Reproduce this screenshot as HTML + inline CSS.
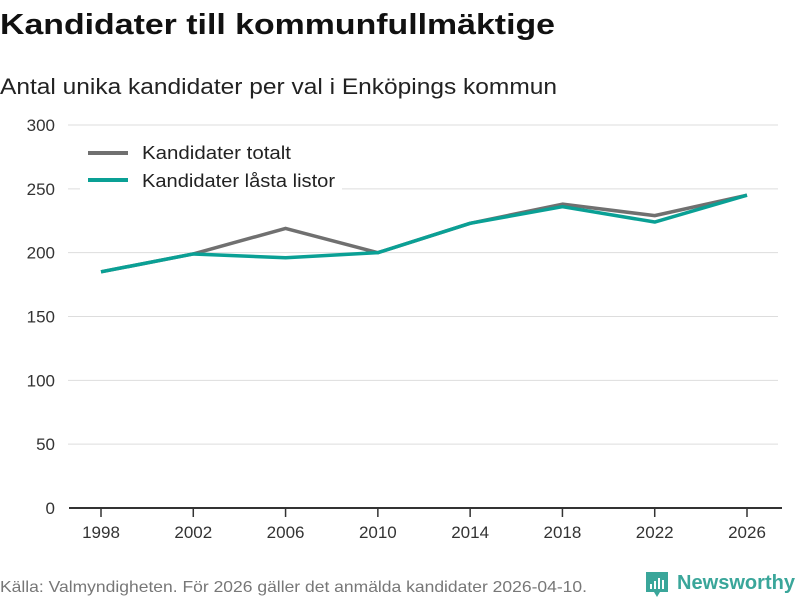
<!DOCTYPE html>
<html><head><meta charset="utf-8"><style>
body{margin:0;background:#fff;font-family:"Liberation Sans",sans-serif;}
svg text{font-family:"Liberation Sans",sans-serif;}
</style></head><body>
<svg id="c" width="800" height="600" viewBox="0 0 800 600">
<text x="0" y="34" font-size="29" font-weight="bold" fill="#111" textLength="555" lengthAdjust="spacingAndGlyphs">Kandidater till kommunfullmäktige</text>
<text x="0" y="94" font-size="22" fill="#222" textLength="557" lengthAdjust="spacingAndGlyphs">Antal unika kandidater per val i Enköpings kommun</text>
<g id="grid"></g>
<g id="series"></g>
<rect x="80" y="138" width="262" height="60" fill="#fff"/>
<g>
<line x1="88" y1="153" x2="128" y2="153" stroke="#707070" stroke-width="4"/>
<text x="142" y="159" font-size="18" fill="#222" textLength="149" lengthAdjust="spacingAndGlyphs">Kandidater totalt</text></g>
<g>
<line x1="88" y1="180" x2="128" y2="180" stroke="#0aa095" stroke-width="4"/>
<text x="142" y="187" font-size="18" fill="#222" textLength="193" lengthAdjust="spacingAndGlyphs">Kandidater låsta listor</text></g>
<text x="0" y="592" font-size="16" fill="#777" textLength="587" lengthAdjust="spacingAndGlyphs">Källa: Valmyndigheten. För 2026 gäller det anmälda kandidater 2026-04-10.</text>
<g>
<path d="M646 572h22v20h-8l-3 5-3-5h-8z" fill="#3aa69a"/>
<rect x="650" y="584" width="2" height="5" fill="#fff"/><rect x="654" y="581" width="2" height="8" fill="#fff"/><rect x="658" y="578" width="2" height="11" fill="#fff"/><rect x="662" y="580" width="2" height="9" fill="#fff"/>
<text x="677" y="589" font-size="20" font-weight="bold" fill="#3aa69a" textLength="118" lengthAdjust="spacingAndGlyphs">Newsworthy</text></g>
</svg>
<script>
const years=[1998,2002,2006,2010,2014,2018,2022,2026];
const totalt=[185,199,219,200,223,238,229,245];
const lasta=[185,199,196,200,223,236,224,245];
const yTicks=[0,50,100,150,200,250,300];
const NS="http://www.w3.org/2000/svg";
const x=v=>101+(v-1998)/28*646;
const y=v=>508-v*383/300;
const grid=document.getElementById('grid'),ser=document.getElementById('series');
function mk(t,a,p){const e=document.createElementNS(NS,t);for(const k in a)e.setAttribute(k,a[k]);p.appendChild(e);return e;}
yTicks.forEach(v=>{
 if(v>0){const l=mk('line',{x1:68,x2:778,y1:y(v),y2:y(v),stroke:'#ddd','stroke-width':1},grid);
 
 }
 const t=mk('text',{x:55,y:y(v)+6,'font-size':17,fill:'#333','text-anchor':'end'},grid);t.textContent=v;
 
 
});
const ax=mk('line',{x1:69,x2:782,y1:508,y2:508,stroke:'#333','stroke-width':2},grid);


years.forEach(yr=>{
 const tk=mk('line',{x1:x(yr),x2:x(yr),y1:508,y2:517,stroke:'#333','stroke-width':1.5},grid);
 
 
 const t=mk('text',{x:x(yr),y:538,'font-size':17,fill:'#333','text-anchor':'middle'},grid);t.textContent=yr;
 
 
});
function line(vals,col,name){
 const p=mk('polyline',{points:vals.map((v,i)=>x(years[i])+','+y(v)).join(' '),fill:'none',stroke:col,'stroke-width':3.5,'stroke-linejoin':'round'},ser);
 
 
}
line(totalt,'#707070','line-totalt');
line(lasta,'#0aa095','line-lasta-listor');
</script>
</body></html>
